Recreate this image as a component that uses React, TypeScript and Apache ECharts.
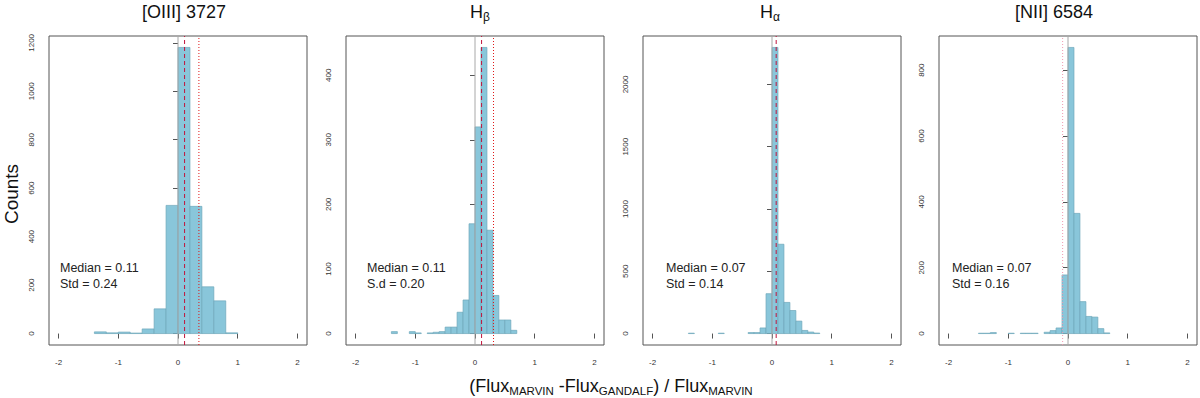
import React, { useEffect, useRef } from "react";
import * as echarts from "echarts";

// ---- data ----
const panelTitles = ["[OIII] 3727", "H{s|β}", "H{s|α}", "[NII] 6584"];
const binStarts = [-1.4, -1.4, -1.4, -1.5];
const binWidths = [0.2, 0.1, 0.1, 0.1];
const countsOIII = [7, 3, 6, 2, 19, 102, 529, 1181, 525, 193, 135, 3];
const countsHbeta = [3, 0, 0, 3, 1, 0, 1, 2, 3, 10, 10, 33, 52, 170, 320, 443, 160, 59, 21, 21, 5];
const countsHalpha = [3, 0, 0, 0, 0, 3, 0, 0, 0, 0, 8, 8, 45, 320, 2297, 717, 250, 185, 100, 25, 12, 4];
const countsNII = [1, 1, 3, 0, 0, 1, 0, 1, 1, 1, 0, 4, 9, 17, 178, 869, 365, 97, 52, 50, 15, 2];
const allCounts = [countsOIII, countsHbeta, countsHalpha, countsNII];
const yTicks = [
  [0, 200, 400, 600, 800, 1000, 1200],
  [0, 100, 200, 300, 400],
  [0, 500, 1000, 1500, 2000],
  [0, 200, 400, 600, 800],
];
const xTicks = [-2, -1, 0, 1, 2];
const statLines = [
  ["Median = 0.11", "Std = 0.24"],
  ["Median = 0.11", "S.d = 0.20"],
  ["Median = 0.07", "Std = 0.14"],
  ["Median = 0.07", "Std = 0.16"],
];
const dashedLines: (number | null)[] = [0.11, 0.11, 0.07, null];
const dottedLines: (number | null)[] = [0.35, 0.31, null, -0.09];
const xLimit = 2;

// ---- layout ----
const gridLefts = [49, 346, 643, 939];
const gridTop = 36;
const gridW = 258;
const gridH = 309;
const titleCenters = [184, 480, 770, 1054];
const statX = [60, 367, 666, 952];
const FONT = "'Liberation Sans', Arial, Helvetica, sans-serif";

export default function App() {
  const ref = useRef<HTMLDivElement>(null);
  useEffect(() => {
    if (!ref.current) return;
    const chart = echarts.init(ref.current, null, { renderer: "svg" });
    const grids: any[] = [];
    const xAxes: any[] = [];
    const yAxes: any[] = [];
    const series: any[] = [];
    const graphics: any[] = [];
    const pad = xLimit * 2 * 0.04;
    allCounts.forEach((counts, p) => {
      const maxC = Math.max(...counts);
      const yMin = -0.04 * maxC;
      const yMax = 1.04 * maxC;
      grids.push({
        left: gridLefts[p],
        top: gridTop,
        width: gridW,
        height: gridH,
        show: true,
        borderColor: "#555",
        borderWidth: 1,
        backgroundColor: "transparent",
      });
      xAxes.push({
        type: "value",
        gridIndex: p,
        min: -xLimit - pad,
        max: xLimit + pad,
        axisLine: { show: false },
        splitLine: { show: false },
        axisTick: { show: true, length: 5, lineStyle: { color: "#555" }, customValues: xTicks },
        axisLabel: {
          fontSize: 8,
          color: "#333",
          fontFamily: FONT,
          margin: 13,
          customValues: xTicks,
          formatter: (v: number) => String(v),
        },
      });
      yAxes.push({
        type: "value",
        gridIndex: p,
        min: yMin,
        max: yMax,
        axisLine: { show: false },
        splitLine: { show: false },
        axisTick: { show: true, length: 5, lineStyle: { color: "#555" }, customValues: yTicks[p] },
        axisLabel: {
          fontSize: 8,
          color: "#333",
          fontFamily: FONT,
          rotate: 90,
          margin: 14,
          customValues: yTicks[p],
          formatter: (v: number) => String(v),
        },
      });
      const data = counts
        .map((c, i) => {
          const x0 = binStarts[p] + i * binWidths[p];
          return [x0, x0 + binWidths[p], c];
        })
        .filter((d) => d[2] > 0);
      series.push({
        type: "custom",
        xAxisIndex: p,
        yAxisIndex: p,
        data,
        encode: { x: [0, 1], y: 2 },
        z: 2,
        renderItem: (_params: any, api: any) => {
          const a = api.coord([api.value(0), 0]);
          const b = api.coord([api.value(1), api.value(2)]);
          return {
            type: "rect",
            shape: { x: a[0], y: b[1], width: b[0] - a[0], height: a[1] - b[1] },
            style: { fill: "#89c6da", stroke: "#6ea8ba", lineWidth: 0.7 },
          };
        },
      });
      const vline = (x: number, color: string, type: any) => ({
        type: "line",
        xAxisIndex: p,
        yAxisIndex: p,
        data: [
          [x, yMin],
          [x, yMax],
        ],
        symbol: "none",
        silent: true,
        z: 5,
        color,
        itemStyle: { color },
        lineStyle: { color, type, width: 1 },
      });
      series.push(vline(0, "#a8a8a8", "solid"));
      if (dashedLines[p] !== null) series.push(vline(dashedLines[p] as number, "#c0143c", [4, 3]));
      if (dottedLines[p] !== null)
        series.push(vline(dottedLines[p] as number, p === 3 ? "#f09ab0" : "#e01818", [1, 2]));
      graphics.push({
        type: "text",
        x: titleCenters[p],
        y: 12,
        style: {
          text: panelTitles[p],
          fontSize: 18,
          fontFamily: FONT,
          fill: "#111",
          align: "center",
          verticalAlign: "middle",
          rich: { s: { fontSize: 12, fontFamily: FONT, fill: "#111", verticalAlign: "bottom", lineHeight: 22 } },
        },
      });
      statLines[p].forEach((t, k) => {
        graphics.push({
          type: "text",
          x: statX[p],
          y: 268 + 16 * k,
          style: {
            text: t,
            fontSize: 12.5,
            fontFamily: FONT,
            fill: "#222",
            align: "left",
            verticalAlign: "middle",
          },
        });
      });
    });
    graphics.push({
      type: "text",
      x: 11,
      y: 194,
      rotation: Math.PI / 2,
      style: {
        text: "Counts",
        fontSize: 19,
        fontFamily: FONT,
        fill: "#111",
        align: "center",
        verticalAlign: "middle",
      },
    });
    graphics.push({
      type: "text",
      x: 611,
      y: 386,
      style: {
        text: "(Flux{s|MARVIN} -Flux{s|GANDALF}) / Flux{s|MARVIN}",
        fontSize: 18,
        fontFamily: FONT,
        fill: "#111",
        align: "center",
        verticalAlign: "middle",
        lineHeight: 22,
        rich: { s: { fontSize: 11.5, fontFamily: FONT, fill: "#111", verticalAlign: "bottom", lineHeight: 22 } },
      },
    });
    chart.setOption({
      animation: false,
      backgroundColor: "#ffffff",
      grid: grids,
      xAxis: xAxes,
      yAxis: yAxes,
      series,
      graphic: graphics,
    });
    return () => chart.dispose();
  }, []);
  return (
    <div
      ref={ref}
      style={{ position: "fixed", left: 0, top: 0, width: 1200, height: 398, background: "#fff" }}
    />
  );
}
